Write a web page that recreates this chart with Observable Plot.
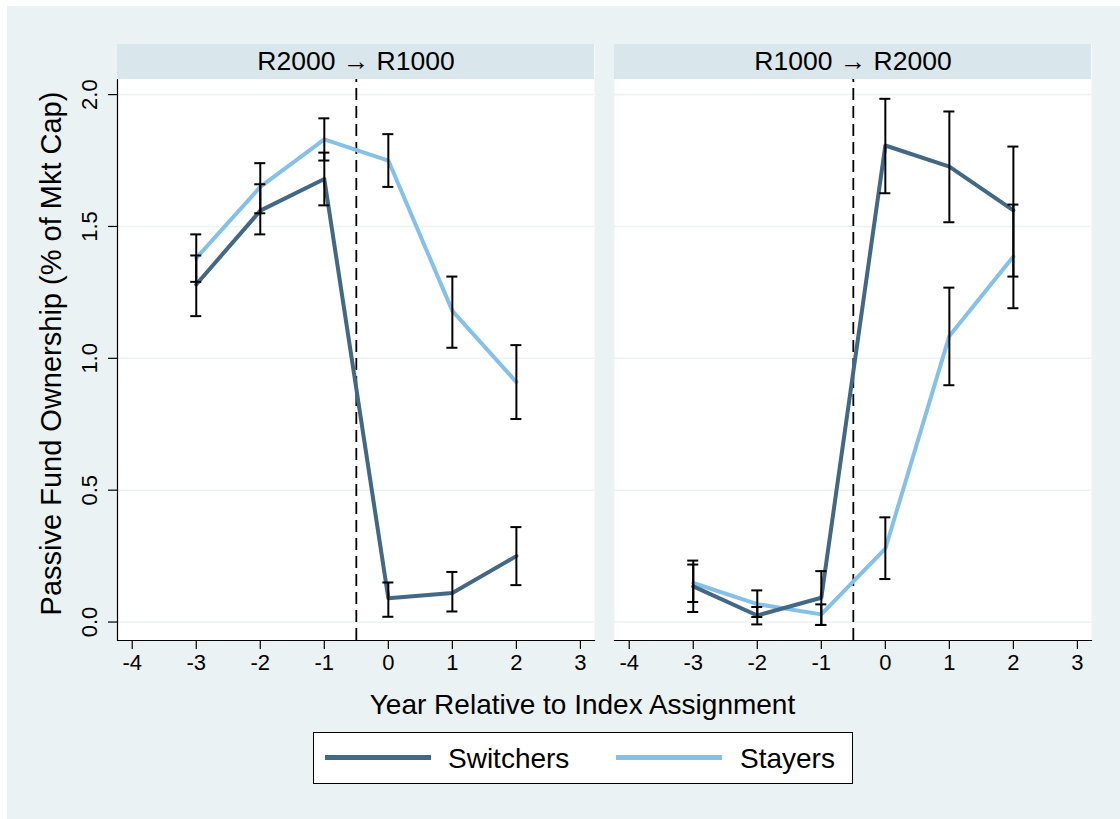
<!DOCTYPE html>
<html>
<head>
<meta charset="utf-8">
<script src="https://cdn.jsdelivr.net/npm/d3@7"></script>
<script src="https://cdn.jsdelivr.net/npm/@observablehq/plot@0.6"></script>
<style>
  html, body { margin: 0; padding: 0; background: #ffffff; }
  body { width: 1120px; height: 819px; position: relative; overflow: hidden;
         font-family: "Liberation Sans", Arial, Helvetica, sans-serif; }
  #box { position: absolute; left: 7px; top: 6px; width: 1113px; height: 813px; background: #eaf2f3; }
  #chart { position: absolute; left: 0; top: 0; }
  #xtitle { position: absolute; left: 0; width: 1113px; top: 683px; text-align: center;
            font-size: 28px; line-height: 32px; color: #000; padding-left: 38px; box-sizing: border-box; }
  #legend { position: absolute; left: 306px; top: 726px; width: 540px; height: 52px;
            background: #fff; border: 1.5px solid #000; box-sizing: border-box; }
  .sw { position: absolute; height: 5px; width: 106px; top: 22px; }
  .lab { position: absolute; top: 10px; font-size: 28px; line-height: 32px; color: #000; }
</style>
</head>
<body>
<div id="box">
  <div id="chart"></div>
  <div id="xtitle"></div>
  <div id="legend"></div>
</div>
<script>
// ---- data ----
const panels = ["R2000 \u2192 R1000", "R1000 \u2192 R2000"];
const groups = ["Switchers", "Stayers"];
const groupColors = ["#426885", "#85c0e9"];
const years = [-3, -2, -1, 0, 1, 2];
const xTicks = [-4, -3, -2, -1, 0, 1, 2, 3];
const yTicks = [0, 0.5, 1.0, 1.5, 2.0];
const cutoff = -0.5;

// R2000 -> R1000
const switchersUp   = [1.28, 1.56, 1.68, 0.09, 0.11, 0.25];
const switchersUpLo = [1.16, 1.47, 1.58, 0.02, 0.04, 0.14];
const switchersUpHi = [1.39, 1.66, 1.78, 0.15, 0.19, 0.36];
const stayersUp     = [1.38, 1.65, 1.83, 1.75, 1.18, 0.91];
const stayersUpLo   = [1.29, 1.55, 1.75, 1.65, 1.04, 0.77];
const stayersUpHi   = [1.47, 1.74, 1.91, 1.85, 1.31, 1.05];

// R1000 -> R2000
const switchersDown   = [0.135, 0.025, 0.092, 1.807, 1.727, 1.561];
const switchersDownLo = [0.038, -0.009, -0.011, 1.626, 1.516, 1.310];
const switchersDownHi = [0.233, 0.057, 0.193, 1.984, 1.936, 1.803];
const stayersDown     = [0.148, 0.068, 0.029, 0.278, 1.085, 1.386];
const stayersDownLo   = [0.076, 0.019, -0.011, 0.163, 0.898, 1.190];
const stayersDownHi   = [0.218, 0.120, 0.067, 0.397, 1.268, 1.583];

const xTitle = "Year Relative to Index Assignment";
const yTitle = "Passive Fund Ownership (% of Mkt Cap)";

// ---- table ----
function rows(panel, group, v, lo, hi) {
  return years.map((x, i) => ({panel, group, x, v: v[i], lo: lo[i], hi: hi[i]}));
}
const rowsData = [
  ...rows(panels[0], groups[0], switchersUp, switchersUpLo, switchersUpHi),
  ...rows(panels[0], groups[1], stayersUp, stayersUpLo, stayersUpHi),
  ...rows(panels[1], groups[0], switchersDown, switchersDownLo, switchersDownHi),
  ...rows(panels[1], groups[1], stayersDown, stayersDownLo, stayersDownHi)
];
const switchers = rowsData.filter(d => d.group === groups[0]);
const stayers = rowsData.filter(d => d.group === groups[1]);

// ---- layout constants ----
const xLo = -4.23, xHi = 3.22;
const yLo = -0.07, yHi = 2.19, stripLo = 2.057;
const capHalf = 0.086;
const font = "'Liberation Sans', Arial, Helvetica, sans-serif";

const chart = Plot.plot({
  width: 1113,
  height: 680,
  marginLeft: 110,
  marginRight: 28,
  marginTop: 38,
  marginBottom: 46,
  style: {fontFamily: font, fontSize: "22px", background: "transparent", color: "#000"},
  fx: {domain: panels, paddingInner: 0.0402, paddingOuter: 0, axis: null, label: null},
  x: {domain: [xLo, xHi], label: null},
  y: {domain: [yLo, yHi], label: null},
  color: {domain: groups, range: groupColors},
  marks: [
    Plot.frame({fill: "white", stroke: null}),
    Plot.rect(panels, {fx: d => d, y1: () => stripLo, y2: () => yHi, fill: "#d9e6eb"}),
    Plot.ruleY(yTicks, {stroke: "#eaf2f3", strokeWidth: 1.5}),
    Plot.ruleX([cutoff], {y1: () => yLo, y2: () => stripLo, stroke: "#000", strokeWidth: 1.8, strokeDasharray: "12,6"}),
    Plot.line(stayers, {x: "x", y: "v", fx: "panel", stroke: "group", strokeWidth: 4}),
    Plot.line(switchers, {x: "x", y: "v", fx: "panel", stroke: "group", strokeWidth: 4}),
    Plot.ruleX(rowsData, {x: "x", y1: "lo", y2: "hi", fx: "panel", stroke: "#000", strokeWidth: 2}),
    Plot.ruleY(rowsData, {y: "lo", x1: d => d.x - capHalf, x2: d => d.x + capHalf, fx: "panel", stroke: "#000", strokeWidth: 2}),
    Plot.ruleY(rowsData, {y: "hi", x1: d => d.x - capHalf, x2: d => d.x + capHalf, fx: "panel", stroke: "#000", strokeWidth: 2}),
    Plot.frame({anchor: "bottom", stroke: "#000", strokeWidth: 1.2}),
    Plot.ruleX([xLo], {fx: () => panels[0], y1: () => yLo, y2: () => stripLo, stroke: "#000", strokeWidth: 1.2}),
    Plot.axisX({ticks: xTicks, tickSize: 9, tickPadding: 5, fontSize: 22, label: null, stroke: "#000", strokeWidth: 1.2, tickFormat: d => String(d)}),
    Plot.axisY({ticks: yTicks, tickSize: 9, tickFormat: () => "", label: null, stroke: "#000", strokeWidth: 1.2}),
    Plot.text(yTicks, {y: d => d, fx: () => panels[0], frameAnchor: "left", textAnchor: "middle", lineAnchor: "middle", dx: -28, rotate: -90, fontSize: 22, text: d => d.toFixed(1), fill: "#000"}),
    Plot.text(panels, {fx: d => d, frameAnchor: "top", textAnchor: "middle", dy: 17.5, lineAnchor: "middle", text: d => d, fontSize: 26.5, fill: "#000"}),
    Plot.text([yTitle], {fx: () => panels[0], frameAnchor: "left", textAnchor: "middle", lineAnchor: "middle", dx: -66, dy: 11, rotate: -90, fontSize: 29, text: d => d, fill: "#000"})
  ]
});
document.getElementById("chart").append(chart);

document.getElementById("xtitle").textContent = xTitle;
const lg = document.getElementById("legend");
const swPos = [11, 302];
const labPos = [134, 426];
groups.forEach((g, i) => {
  const s = document.createElement("div");
  s.className = "sw"; s.style.left = swPos[i] + "px"; s.style.background = groupColors[i];
  lg.append(s);
  const t = document.createElement("div");
  t.className = "lab"; t.style.left = labPos[i] + "px"; t.textContent = g;
  lg.append(t);
});
</script>
</body>
</html>
